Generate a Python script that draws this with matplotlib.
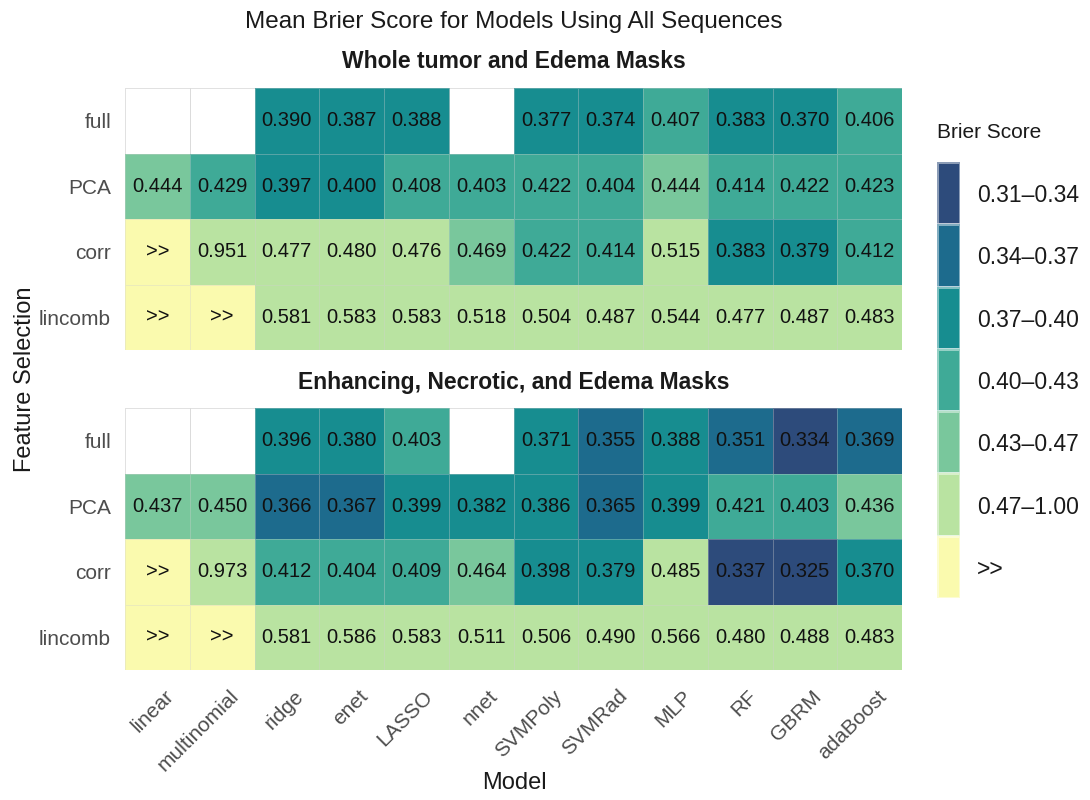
import numpy as np
import matplotlib
matplotlib.use("Agg")
import matplotlib.pyplot as plt
from matplotlib.colors import ListedColormap, BoundaryNorm
import matplotlib.transforms as mtransforms

plt.rcParams['font.family'] = ['Liberation Sans', 'DejaVu Sans']

# ---------------- data ----------------
models = ["linear", "multinomial", "ridge", "enet", "LASSO", "nnet",
          "SVMPoly", "SVMRad", "MLP", "RF", "GBRM", "adaBoost"]
selections = ["full", "PCA", "corr", "lincomb"]
panel_titles = ["Whole tumor and Edema Masks", "Enhancing, Necrotic, and Edema Masks"]

NA = None
GT = ">>"
whole_full = [NA, NA, 0.390, 0.387, 0.388, NA, 0.377, 0.374, 0.407, 0.383, 0.370, 0.406]
whole_pca = [0.444, 0.429, 0.397, 0.3996, 0.408, 0.403, 0.422, 0.404, 0.444, 0.414, 0.422, 0.423]
whole_corr = [GT, 0.951, 0.477, 0.480, 0.476, 0.469, 0.422, 0.414, 0.515, 0.383, 0.379, 0.412]
whole_lincomb = [GT, GT, 0.581, 0.583, 0.583, 0.518, 0.504, 0.487, 0.544, 0.477, 0.487, 0.483]

enh_full = [NA, NA, 0.396, 0.380, 0.403, NA, 0.371, 0.355, 0.388, 0.351, 0.334, 0.369]
enh_pca = [0.437, 0.450, 0.366, 0.367, 0.399, 0.382, 0.386, 0.365, 0.399, 0.421, 0.403, 0.436]
enh_corr = [GT, 0.973, 0.412, 0.404, 0.409, 0.464, 0.398, 0.379, 0.485, 0.337, 0.325, 0.370]
enh_lincomb = [GT, GT, 0.581, 0.586, 0.583, 0.511, 0.506, 0.490, 0.566, 0.480, 0.488, 0.483]

bin_edges = [0.31, 0.34, 0.37, 0.40, 0.43, 0.47, 1.00]
legend_labels = ["0.31\u20130.34", "0.34\u20130.37", "0.37\u20130.40", "0.40\u20130.43",
                 "0.43\u20130.47", "0.47\u20131.00", ">>"]
bin_colors = ["#2D4B7B", "#1D6B8D", "#178D90", "#3FAA97", "#79C79C", "#B9E3A1", "#FAFAAE"]

panels = [[whole_full, whole_pca, whole_corr, whole_lincomb],
          [enh_full, enh_pca, enh_corr, enh_lincomb]]

# ---------------- figure ----------------
W, H = 1090, 800
fig = plt.figure(figsize=(W / 100, H / 100), dpi=100)


def px_axes(l, t, r, b):
    return fig.add_axes([l / W, 1 - b / H, (r - l) / W, (b - t) / H])


cmap = ListedColormap(bin_colors)
norm = BoundaryNorm(np.arange(len(bin_colors) + 1) - 0.5, len(bin_colors))
tick_grey = "#4d4d4d"

axes = [px_axes(125, 88, 902, 350), px_axes(125, 408, 902, 670)]
for ax, rows, ptitle in zip(axes, panels, panel_titles):
    nr, nc = len(selections), len(models)
    idx = np.full((nr, nc), np.nan)
    for i, row in enumerate(rows):
        for j, v in enumerate(row):
            if v is None:
                continue
            idx[i, j] = len(bin_colors) - 1 if v == GT else np.digitize(v, bin_edges[1:-1])
    xe = np.arange(nc + 1)
    ye = np.arange(nr + 1)
    ax.pcolormesh(xe, ye, np.zeros((nr, nc)), cmap=ListedColormap(["white"]),
                  edgecolors="#ebebeb", linewidth=0.6)
    ax.pcolormesh(xe, ye, np.ma.masked_invalid(idx), cmap=cmap, norm=norm,
                  edgecolors=(0.82, 0.82, 0.82, 0.35), linewidth=0.6)
    for i, row in enumerate(rows):
        for j, v in enumerate(row):
            if v is None:
                continue
            lab = GT if v == GT else f"{v:.3f}"
            ax.text(j + 0.5, i + 0.5, lab, ha="center", va="center",
                    fontsize=14.5, color="#111111")
    ax.set_xlim(0, nc)
    ax.set_ylim(nr, 0)
    for s in ax.spines.values():
        s.set_visible(False)
    ax.set_yticks(np.arange(nr) + 0.5, selections)
    ax.tick_params(axis="y", length=0, pad=10, labelsize=15, labelcolor=tick_grey)
    ax.text(0.5, 1 + 26 / 262, ptitle, transform=ax.transAxes, ha="center",
            va="center", fontsize=16.5, fontweight="bold", color="#1a1a1a")

axes[0].set_xticks([])
ax = axes[1]
ax.set_xticks(np.arange(len(models)) + 0.5, models)
ax.tick_params(axis="x", length=0, pad=12, labelsize=15, labelcolor=tick_grey)
off = mtransforms.ScaledTranslation(0.07, 0, fig.dpi_scale_trans)
for lab in ax.get_xticklabels():
    lab.set_rotation(45)
    lab.set_rotation_mode("anchor")
    lab.set_ha("right")
    lab.set_va("top")
    lab.set_transform(lab.get_transform() + off)

# titles
fig.text(514 / W, 1 - 22 / H, "Mean Brier Score for Models Using All Sequences",
         ha="center", va="center", fontsize=17.5, color="#1a1a1a")
fig.text(514 / W, 1 - 783 / H, "Model", ha="center", va="center", fontsize=17, color="#1a1a1a")
fig.text(25 / W, 1 - 379 / H, "Feature Selection", ha="center", va="center",
         rotation=90, fontsize=17, color="#1a1a1a")

# legend
cax = px_axes(937, 162, 960, 598)
nb = len(bin_colors)
cax.pcolormesh(np.array([0, 1]), np.arange(nb + 1), np.arange(nb).reshape(nb, 1),
               cmap=cmap, norm=norm, edgecolors=(1, 1, 1, 0.45), linewidth=0.8)
cax.set_xlim(0, 1)
cax.set_ylim(nb, 0)
for s in cax.spines.values():
    s.set_visible(False)
cax.set_xticks([])
cax.yaxis.tick_right()
cax.set_yticks(np.arange(nb) + 0.5, legend_labels)
cax.tick_params(axis="y", length=0, pad=12, labelsize=16.5, labelcolor="#1a1a1a")
fig.text(937 / W, 1 - 133 / H, "Brier Score", ha="left", va="center", fontsize=15,
         color="#1a1a1a")

fig.savefig("out.png", dpi=100, facecolor="white")
